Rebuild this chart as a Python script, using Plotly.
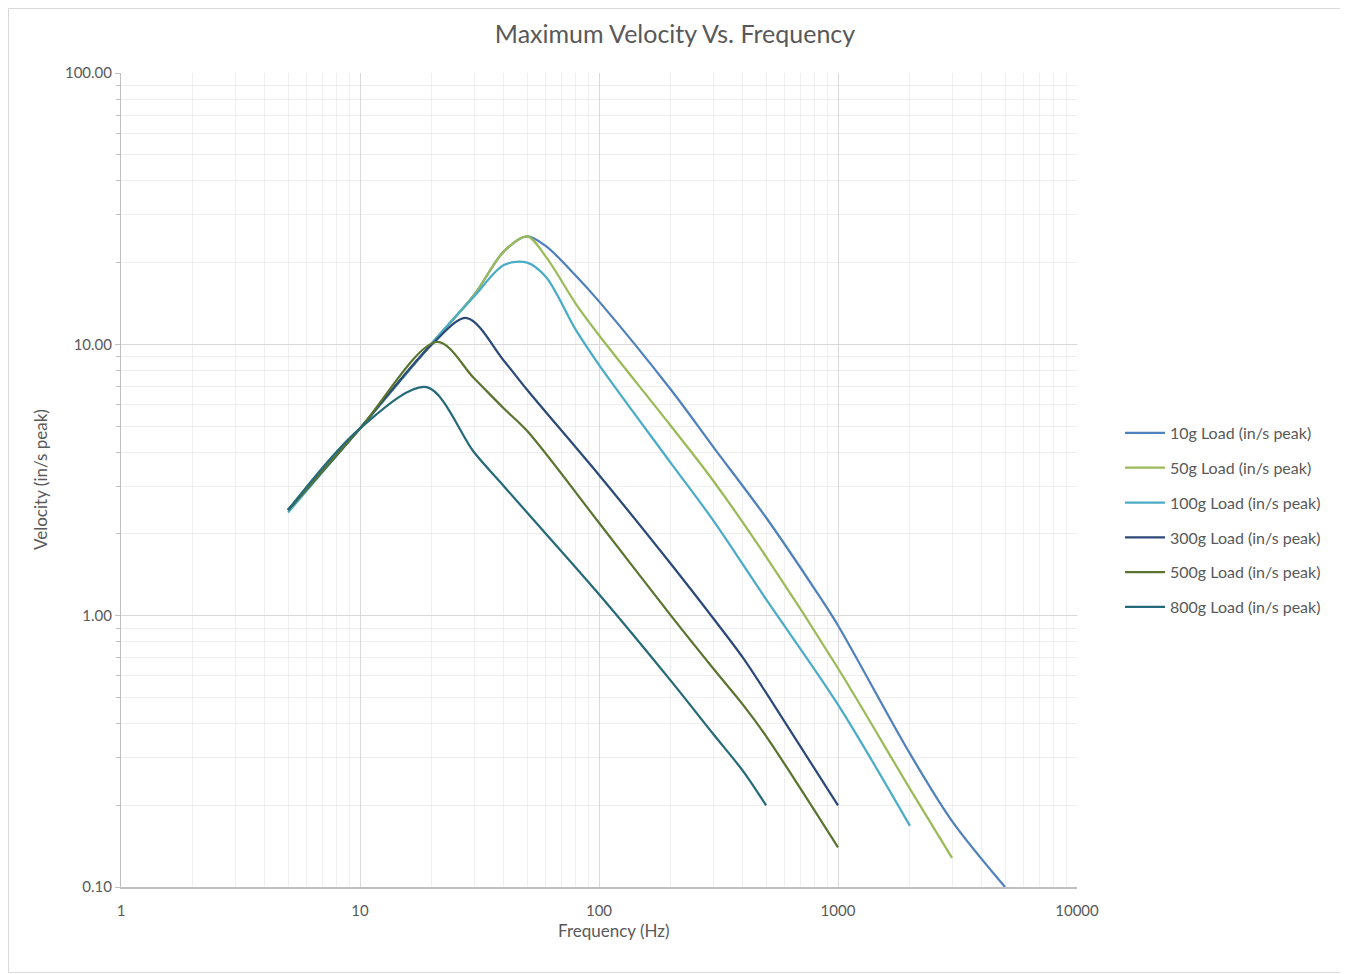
import plotly.graph_objects as go

# ---- data ----
series_names = ["10g Load (in/s peak)", "50g Load (in/s peak)", "100g Load (in/s peak)",
                "300g Load (in/s peak)", "500g Load (in/s peak)", "800g Load (in/s peak)"]
series_colors = ["#4F81BD", "#9BBB59", "#4BACC6", "#2C4A78", "#5B7530", "#256A78"]

freq_10g = [5, 10, 20, 30, 40, 50, 60, 80, 100, 200, 300, 500, 800, 1000, 2000, 3000, 5000]
vel_10g = [2.45, 4.9, 10.1, 15.2, 22.0, 25.0, 23.0, 17.9, 14.4, 6.8, 4.2, 2.3, 1.25, 0.92, 0.31, 0.175, 0.1]

freq_50g = [5, 10, 20, 30, 40, 50, 60, 80, 100, 200, 300, 500, 1000, 2000, 3000]
vel_50g = [2.45, 4.9, 10.1, 15.2, 22.0, 25.0, 21.0, 14.1, 10.8, 5.0, 3.15, 1.65, 0.64, 0.23, 0.128]

freq_100g = [5, 10, 20, 30, 40, 50, 60, 80, 100, 200, 300, 500, 1000, 2000]
vel_100g = [2.4, 4.9, 10.1, 15.0, 19.6, 20.0, 17.7, 11.3, 8.4, 3.65, 2.25, 1.15, 0.47, 0.168]

freq_300g = [5, 10, 20, 28, 40, 50, 100, 200, 300, 400, 500, 1000]
vel_300g = [2.45, 4.9, 10.0, 12.5, 8.7, 6.8, 3.3, 1.55, 0.98, 0.7, 0.52, 0.2]

freq_500g = [5, 10, 21, 30, 40, 50, 100, 200, 300, 400, 500, 1000]
vel_500g = [2.45, 4.9, 10.2, 7.5, 5.8, 4.8, 2.2, 1.0, 0.64, 0.47, 0.36, 0.14]

freq_800g = [5, 10, 19, 30, 40, 50, 100, 200, 300, 400, 500]
vel_800g = [2.45, 4.9, 6.95, 4.0, 3.0, 2.4, 1.2, 0.575, 0.367, 0.268, 0.2]

all_freq = [freq_10g, freq_50g, freq_100g, freq_300g, freq_500g, freq_800g]
all_vel = [vel_10g, vel_50g, vel_100g, vel_300g, vel_500g, vel_800g]

x_tick_vals = [1, 10, 100, 1000, 10000]
x_tick_text = ["1", "10", "100", "1000", "10000"]
y_tick_vals = [0.1, 1, 10, 100]
y_tick_text = ["0.10", "1.00", "10.00", "100.00"]

x_minor = [m * 10 ** d for d in range(4) for m in range(2, 10)]
y_minor = [m * 10 ** d for d in range(-1, 2) for m in range(2, 10)]

FONT = "Lato, 'Open Sans', sans-serif"
TXT = "#595959"

fig = go.Figure()
for i in range(len(series_names)):
    fig.add_trace(go.Scatter(
        x=all_freq[i], y=all_vel[i], mode="lines", name=series_names[i],
        legendgroup=series_names[i],
        line=dict(color=series_colors[i], width=2.25, shape="spline", smoothing=0.9),
    ))

# page has an 8px body margin; figure occupies 8..1348 x 8..974
OFF = 8
W, H = 1348 - OFF, 974 - OFF
PL, PR, PT, PB = 121, 1077, 73, 887   # plot area in page pixels
ml, mr, mt, mb = PL - OFF, W - (PR - OFF), PT - OFF, H - (PB - OFF)
pw, ph = PR - PL, PB - PT


def px_x(page_x):
    return (page_x - PL) / pw


def px_y(page_y):
    return (PB - page_y) / ph


fig.update_layout(
    width=W, height=H,
    margin=dict(l=ml, r=mr, t=mt, b=mb),
    paper_bgcolor="white", plot_bgcolor="white",
    font=dict(family=FONT, color=TXT, size=15),
    title=dict(text="Maximum Velocity Vs. Frequency", x=(675 - OFF) / W,
               xanchor="center", y=1 - (34 - OFF) / H, yanchor="middle",
               font=dict(size=25, color=TXT, family=FONT)),
    showlegend=True,
    legend=dict(x=px_x(1120), xanchor="left", y=px_y(416), yanchor="top",
                font=dict(size=16, color=TXT, family=FONT), tracegroupgap=11,
                bgcolor="rgba(0,0,0,0)", itemwidth=40),
)

fig.update_xaxes(
    type="log", range=[0, 4],
    tickmode="array", tickvals=x_tick_vals, ticktext=x_tick_text,
    showgrid=True, gridcolor="#D9D9D9", gridwidth=1,
    minor=dict(tickmode="array", tickvals=x_minor, showgrid=True, gridcolor="#EFEFEF", gridwidth=1,
               ticks=""),
    showline=True, linecolor="#BFBFBF", linewidth=1.5,
    ticks="", ticklabelstandoff=9,
    tickfont=dict(size=15, color=TXT, family=FONT),
    zeroline=False, mirror=False,
)
fig.update_yaxes(
    type="log", range=[-1, 2],
    tickmode="array", tickvals=y_tick_vals, ticktext=y_tick_text,
    showgrid=True, gridcolor="#D9D9D9", gridwidth=1,
    minor=dict(tickmode="array", tickvals=y_minor, showgrid=True, gridcolor="#EFEFEF", gridwidth=1,
               ticks="outside", ticklen=4, tickcolor="#BFBFBF"),
    showline=True, linecolor="#BFBFBF", linewidth=1,
    ticks="outside", ticklen=5, tickcolor="#BFBFBF",
    tickfont=dict(size=15, color=TXT, family=FONT),
    zeroline=False,
)

# axis titles as annotations (positioned like the reference)
fig.add_annotation(text="Frequency (Hz)", xref="paper", yref="paper",
                   x=px_x(614), y=px_y(931),
                   showarrow=False, xanchor="center", yanchor="middle",
                   font=dict(size=17, color=TXT, family=FONT))
fig.add_annotation(text="Velocity (in/s peak)", xref="paper", yref="paper",
                   x=px_x(40), y=px_y(480), textangle=-90,
                   showarrow=False, xanchor="center", yanchor="middle",
                   font=dict(size=17, color=TXT, family=FONT))

# chart outer border
fig.add_shape(type="rect", xref="paper", yref="paper",
              x0=px_x(OFF + 0.5), x1=px_x(1346.5),
              y0=px_y(972.5), y1=px_y(OFF + 0.5),
              line=dict(color="#D9D9D9", width=1), layer="below")

fig.write_html("out.html")
